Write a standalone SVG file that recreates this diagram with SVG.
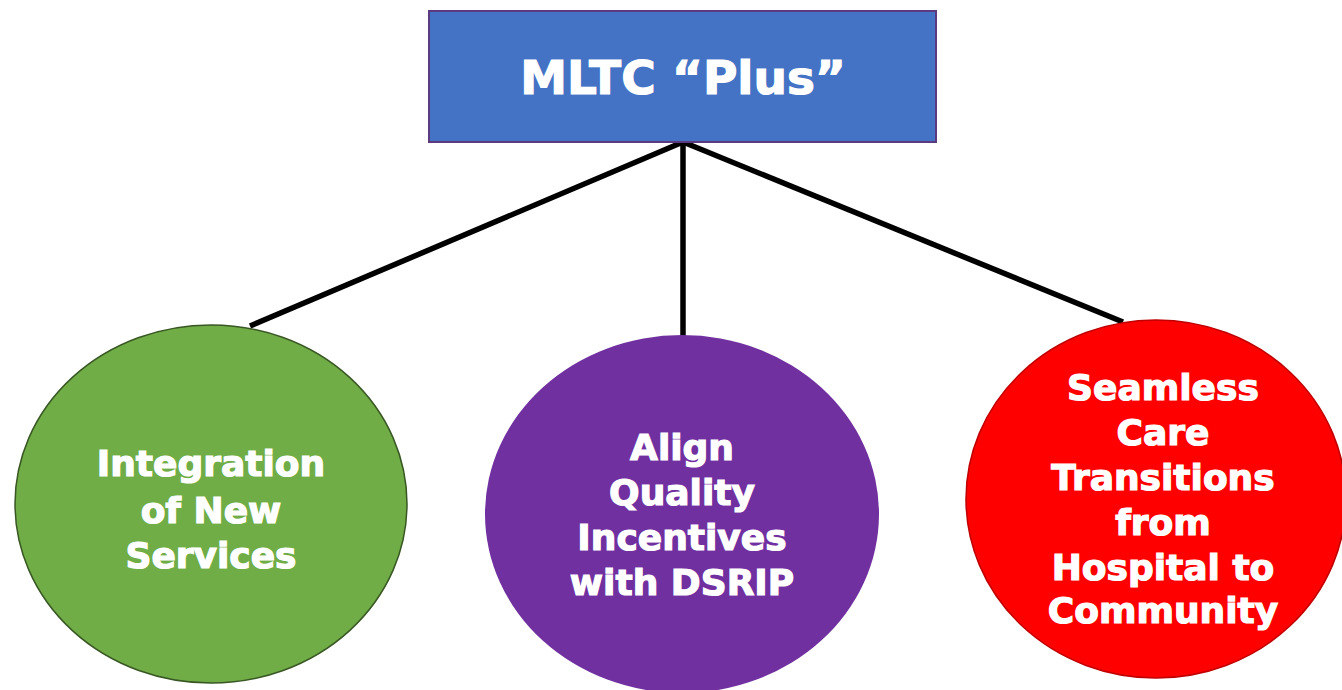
<svg xmlns="http://www.w3.org/2000/svg" width="1342" height="690" viewBox="0 0 1342 690">
<style>
.t{font-family:"DejaVu Sans","Liberation Sans",sans-serif;font-weight:bold;fill:#fff;stroke:#fff;stroke-width:1.2;text-anchor:middle;font-size:36px}
.c{stroke:#000;stroke-width:5.5;fill:none}
</style>
<rect width="1342" height="690" fill="#fff"/>
<g id="connectors">
<line class="c" x1="683" y1="142" x2="250" y2="326"/>
<line class="c" x1="683" y1="142" x2="683" y2="336"/>
<line class="c" x1="683" y1="142" x2="1123" y2="322"/>
</g>
<g id="top">
<rect x="429" y="11" width="507" height="131" fill="#4472C4" stroke="#5B3A80" stroke-width="2"/>
<text class="t" x="683" y="94" style="font-size:47px">MLTC “Plus”</text>
</g>
<g id="green">
<ellipse cx="211" cy="504" rx="196" ry="179" fill="#70AD47" stroke="#385723" stroke-width="1.5"/>
<text class="t" x="211" y="476">Integration</text>
<text class="t" x="211" y="523">of New</text>
<text class="t" x="211" y="568">Services</text>
</g>
<g id="purple">
<ellipse cx="682" cy="514" rx="197" ry="179" fill="#7030A0"/>
<text class="t" x="682" y="460">Align</text>
<text class="t" x="682" y="505">Quality</text>
<text class="t" x="682" y="550">Incentives</text>
<text class="t" x="682" y="595">with DSRIP</text>
</g>
<g id="red">
<ellipse cx="1156" cy="499" rx="190" ry="179" fill="#FF0000" stroke="#C00000" stroke-width="1.5"/>
<text class="t" x="1163" y="400">Seamless</text>
<text class="t" x="1163" y="445">Care</text>
<text class="t" x="1163" y="490">Transitions</text>
<text class="t" x="1163" y="535">from</text>
<text class="t" x="1163" y="580">Hospital to</text>
<text class="t" x="1163" y="623">Community</text>
</g>
</svg>
